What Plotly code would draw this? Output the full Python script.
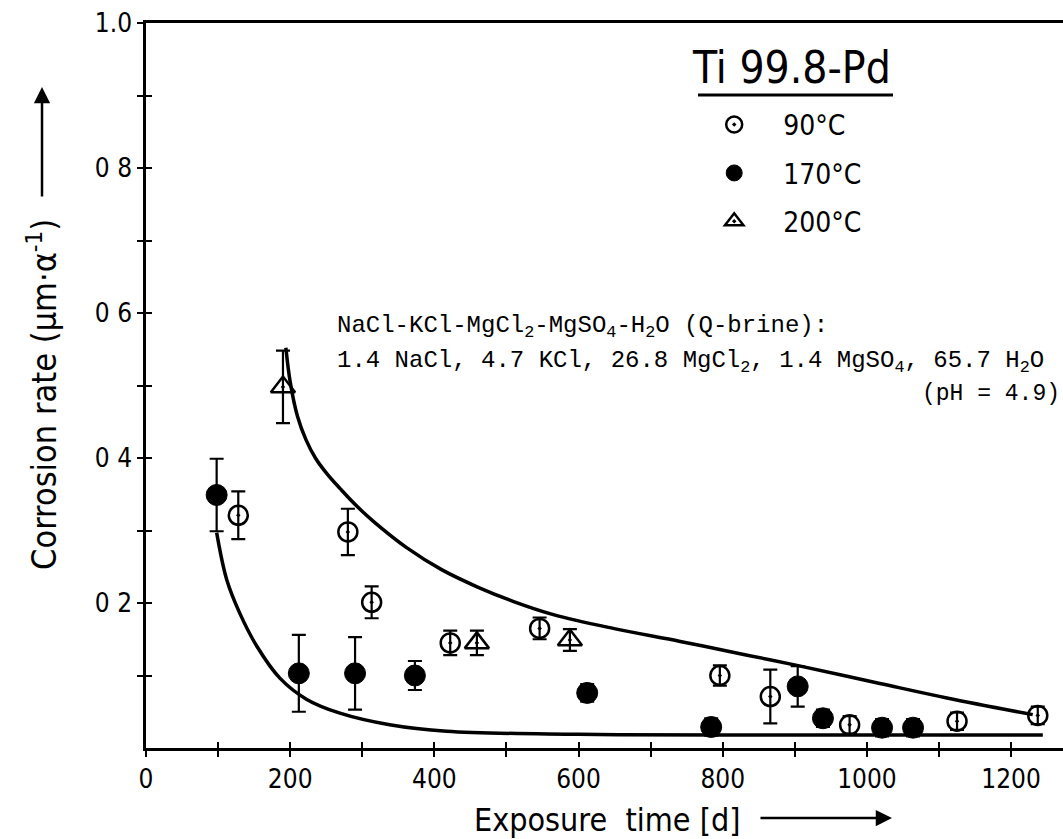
import plotly.graph_objects as go

# ---------------- data ----------------
days_90 = [128, 280, 313, 422, 546, 796, 866, 976, 1125, 1237]
rate_90 = [0.321, 0.298, 0.201, 0.145, 0.165, 0.100, 0.071, 0.032, 0.037, 0.045]
err_90 = [0.033, 0.032, 0.022, 0.017, 0.015, 0.014, 0.037, 0.012, 0.012, 0.012]

days_170 = [98, 212, 290, 373, 612, 784, 904, 939, 1021, 1064]
rate_170 = [0.349, 0.103, 0.103, 0.100, 0.076, 0.029, 0.085, 0.041, 0.028, 0.028]
err_170 = [0.050, 0.053, 0.050, 0.020, 0.012, 0.012, 0.028, 0.012, 0.012, 0.012]

days_200 = [190, 459, 588]
rate_200 = [0.498, 0.145, 0.149]
err_200 = [0.050, 0.017, 0.015]

upper_days = [194, 200, 210, 222, 235, 252, 270, 292, 315, 362, 410, 460, 510, 565, 648, 741, 834, 903, 1018, 1111, 1230]
upper_rate = [0.552, 0.505, 0.458, 0.425, 0.400, 0.377, 0.357, 0.334, 0.313, 0.276, 0.246, 0.222, 0.202, 0.184, 0.165, 0.147, 0.128, 0.114, 0.089, 0.069, 0.046]

lower_days = [98, 112, 130, 154, 186, 223, 269, 338, 417, 600, 800, 1244]
lower_rate = [0.297, 0.232, 0.186, 0.140, 0.096, 0.067, 0.048, 0.032, 0.023, 0.019, 0.018, 0.018]

x_tickvals = [0, 100, 200, 300, 400, 500, 600, 700, 800, 900, 1000, 1100, 1200]
x_ticktext = ["0", "", "200", "", "400", "", "600", "", "800", "", "1000", "", "1200"]
y_tickvals = [0.1, 0.2, 0.3, 0.4, 0.5, 0.6, 0.7, 0.8, 0.9, 1.0]
y_ticktext = ["", "0 2", "", "0 4", "", "0 6", "", "0 8", "", "1.0"]

labels = ["90°C", "170°C", "200°C"]

FONT = "DejaVu Sans Condensed, Liberation Sans Narrow, DejaVu Sans, sans-serif"
MONO = "Liberation Mono, DejaVu Sans Mono, monospace"

fig = go.Figure()

for xs, ys in [(upper_days, upper_rate), (lower_days, lower_rate)]:
    fig.add_trace(go.Scatter(
        x=xs, y=ys, mode="lines",
        line=dict(color="black", width=3.5, shape="spline", smoothing=1.0),
        showlegend=False, hoverinfo="skip"))

series = [
    (days_90, rate_90, err_90, "circle-open-dot", dict(color="black", size=19, line=dict(color="black", width=2.5))),
    (days_170, rate_170, err_170, "circle", dict(color="black", size=21, line=dict(color="black", width=1))),
    (days_200, rate_200, err_200, "triangle-up-open-dot", dict(color="black", size=21, line=dict(color="black", width=2.5))),
]
for i, (xs, ys, es, sym, mk) in enumerate(series):
    mk = dict(mk)
    mk["symbol"] = sym
    fig.add_trace(go.Scatter(
        x=xs, y=ys, mode="markers", name=labels[i], legendgroup=str(i),
        marker=mk,
        error_y=dict(type="data", array=es, visible=True, color="black", thickness=2.2, width=7)))

# dummy trace for overlaid axes (inside ticks)
fig.add_trace(go.Scatter(x=[None], y=[None], xaxis="x2", yaxis="y2", showlegend=False, hoverinfo="skip"))

axis_common = dict(showgrid=False, zeroline=False, color="black")
fig.update_layout(
    width=1063, height=839,
    margin=dict(l=146, r=0, t=23, b=91),
    paper_bgcolor="white", plot_bgcolor="white",
    font=dict(family=FONT, color="black", size=26),
    xaxis=dict(range=[0, 1272], tickvals=x_tickvals, ticktext=x_ticktext,
               ticks="outside", ticklen=6, tickwidth=2, tickcolor="black",
               showline=True, linewidth=2.5, linecolor="black", mirror=True,
               tickfont=dict(family=FONT, size=26), **axis_common),
    yaxis=dict(range=[0, 1.0], tickvals=y_tickvals, ticktext=y_ticktext,
               ticks="outside", ticklen=6, tickwidth=2, tickcolor="black",
               showline=True, linewidth=2.5, linecolor="black",
               tickfont=dict(family=FONT, size=26), **axis_common),
    xaxis2=dict(range=[0, 1272], overlaying="x", anchor="y2", tickvals=x_tickvals,
                showticklabels=False, ticks="inside", ticklen=6, tickwidth=2, tickcolor="black",
                showline=False, **axis_common),
    yaxis2=dict(range=[0, 1.0], overlaying="y", anchor="x2", tickvals=y_tickvals,
                showticklabels=False, ticks="inside", ticklen=6, tickwidth=2, tickcolor="black",
                showline=False, **axis_common),
    legend=dict(x=0.588, y=0.894, xanchor="left", yanchor="top",
                font=dict(family=FONT, size=28), itemwidth=88,
                tracegroupgap=9, bgcolor="rgba(0,0,0,0)"),
    showlegend=True,
)

ann = [
    dict(text="Ti 99.8-Pd", x=0.7034, y=0.939, xref="paper", yref="paper",
         xanchor="center", yanchor="middle", showarrow=False,
         font=dict(family=FONT, size=44)),
    dict(text="NaCl-KCl-MgCl<sub>2</sub>-MgSO<sub>4</sub>-H<sub>2</sub>O (Q-brine):",
         x=0.206, y=0.581, xref="paper", yref="paper", xanchor="left", yanchor="middle",
         showarrow=False, font=dict(family=MONO, size=24)),
    dict(text="1.4 NaCl, 4.7 KCl, 26.8 MgCl<sub>2</sub>, 1.4 MgSO<sub>4</sub>, 65.7 H<sub>2</sub>O",
         x=0.206, y=0.533, xref="paper", yref="paper", xanchor="left", yanchor="middle",
         showarrow=False, font=dict(family=MONO, size=24)),
    dict(text="(pH = 4.9)", x=0.9985, y=0.488, xref="paper", yref="paper",
         xanchor="right", yanchor="middle", showarrow=False, font=dict(family=MONO, size=23)),
    dict(text="Corrosion rate (µm·α<sup>-1</sup>)", x=-0.1134, y=0.487, xref="paper", yref="paper",
         xanchor="center", yanchor="middle", textangle=-90, showarrow=False,
         font=dict(family=FONT, size=34)),
    dict(text="", x=-0.1134, y=0.9117, xref="paper", yref="paper", showarrow=True,
         ax=0, ay=111, arrowhead=2, arrowsize=1.3, arrowwidth=2.5, arrowcolor="black"),
    dict(text="Exposure  time [d]", x=0.5027, y=-0.0993, xref="paper", yref="paper",
         xanchor="center", yanchor="middle", showarrow=False, font=dict(family=FONT, size=32)),
    dict(text="", x=0.8135, y=-0.0966, xref="paper", yref="paper", showarrow=True,
         ax=-133, ay=0, arrowhead=2, arrowsize=1.3, arrowwidth=2.5, arrowcolor="black"),
]
fig.update_layout(annotations=ann)
fig.add_shape(type="line", xref="paper", yref="paper", x0=0.602, x1=0.8146, y0=0.9007, y1=0.9007,
              line=dict(color="black", width=3))

fig.write_html("out.html")
